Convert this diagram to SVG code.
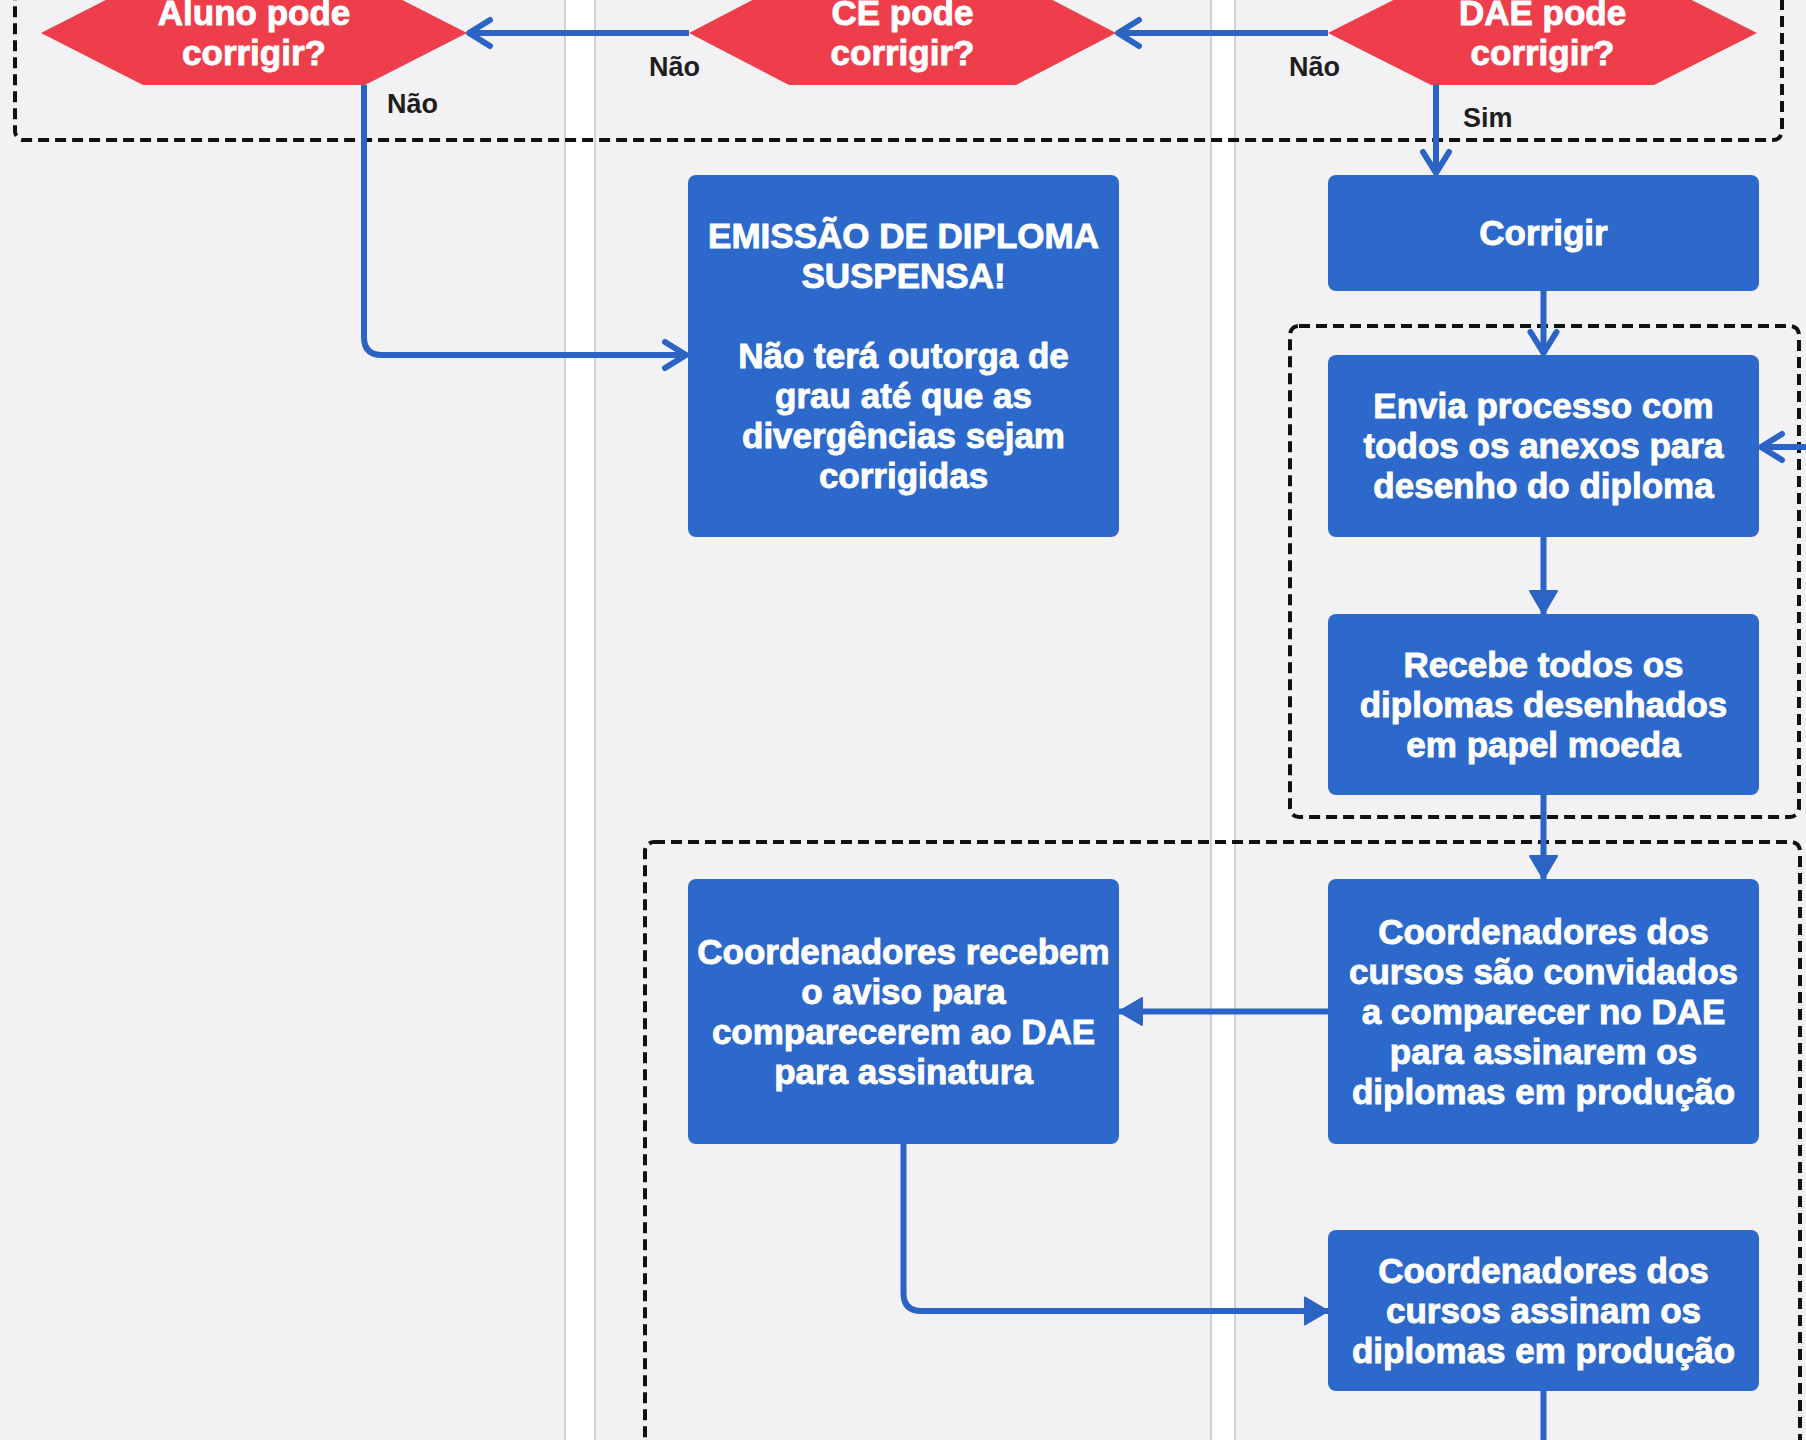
<svg xmlns="http://www.w3.org/2000/svg" width="1806" height="1440" viewBox="0 0 1806 1440">
  <style>
    .lane { fill: #f2f2f4; }
    .gap { fill: #ffffff; }
    .sep { stroke: #bdbdc0; stroke-width: 1.3; }
    .group { fill: none; stroke: #111111; stroke-width: 4; stroke-dasharray: 11 6; }
    .box { fill: #2D68CB; }
    .hex { fill: #EE3E4C; }
    .t { font-family: "Liberation Sans", Arial, Helvetica, sans-serif; font-weight: bold; font-size: 35px; fill: #ffffff; stroke: #ffffff; stroke-width: 0.9; text-anchor: middle; }
    .lbl { font-family: "Liberation Sans", Arial, Helvetica, sans-serif; font-weight: bold; font-size: 27px; fill: #1e1e1e; }
    .edge { fill: none; stroke: #2C64C6; stroke-width: 6; }
  </style>
  <defs>
    <marker id="open" viewBox="-28 -17 34 34" refX="1" refY="0" markerWidth="34" markerHeight="34" orient="auto" markerUnits="userSpaceOnUse">
      <path d="M-21,-13 L0,0 L-21,13" fill="none" stroke="#2C64C6" stroke-width="6" stroke-linecap="round" stroke-linejoin="round"/>
    </marker>
    <marker id="fill" viewBox="-26 -16 30 32" refX="0" refY="0" markerWidth="30" markerHeight="32" orient="auto" markerUnits="userSpaceOnUse">
      <path d="M-23,-13.5 L0,0 L-23,13.5 Z" fill="#2C64C6" stroke="#2C64C6" stroke-width="2" stroke-linejoin="round"/>
    </marker>
  </defs>

  <!-- swimlanes -->
  <g id="lanes">
    <rect class="lane" x="0" y="0" width="565" height="1440"/>
    <rect class="gap" x="565" y="0" width="30" height="1440"/>
    <rect class="lane" x="595" y="0" width="616" height="1440"/>
    <rect class="gap" x="1211" y="0" width="24" height="1440"/>
    <rect class="lane" x="1235" y="0" width="571" height="1440"/>
    <line class="sep" x1="565" y1="0" x2="565" y2="1440"/>
    <line class="sep" x1="595" y1="0" x2="595" y2="1440"/>
    <line class="sep" x1="1211" y1="0" x2="1211" y2="1440"/>
    <line class="sep" x1="1235" y1="0" x2="1235" y2="1440"/>
  </g>

  <!-- dashed groups -->
  <g id="groups">
    <rect class="group" x="15" y="-100" width="1767" height="240" rx="9"/>
    <rect class="group" x="1290" y="326" width="509" height="491" rx="9"/>
    <rect class="group" x="645" y="842" width="1155" height="700" rx="9"/>
  </g>

  <!-- connectors -->
  <g id="connectors">
    <path class="edge" d="M1328,33 H1117" marker-end="url(#open)"/>
    <path class="edge" d="M689,33 H468" marker-end="url(#open)"/>
    <path class="edge" d="M364,85 V337 Q364,355 382,355 H687" marker-end="url(#open)"/>
    <path class="edge" d="M1436,85 V174" marker-end="url(#open)"/>
    <path class="edge" d="M1543.5,291 V354" marker-end="url(#open)"/>
    <path class="edge" d="M1806,447 H1760" marker-end="url(#open)"/>
    <path class="edge" d="M1543.5,537 V614" marker-end="url(#fill)"/>
    <path class="edge" d="M1543.5,795 V879" marker-end="url(#fill)"/>
    <path class="edge" d="M1328,1011.5 H1119" marker-end="url(#fill)"/>
    <path class="edge" d="M903.5,1144 V1293 Q903.5,1311 921.5,1311 H1328" marker-end="url(#fill)"/>
    <path class="edge" d="M1543.5,1391 V1445"/>
    <text class="lbl" x="649" y="76">Não</text>
    <text class="lbl" x="1289" y="76">Não</text>
    <text class="lbl" x="387" y="113">Não</text>
    <text class="lbl" x="1463" y="127">Sim</text>
  </g>

  <!-- decision nodes -->
  <g id="aluno-decisao">
    <polygon class="hex" points="41,33 143,-19 365,-19 467,33 365,85 143,85"/>
    <text class="t" x="254" y="25">Aluno pode</text>
    <text class="t" x="254" y="65">corrigir?</text>
  </g>
  <g id="ce-decisao">
    <polygon class="hex" points="689,33 789,-19 1016,-19 1116,33 1016,85 789,85"/>
    <text class="t" x="902.5" y="25">CE pode</text>
    <text class="t" x="902.5" y="65">corrigir?</text>
  </g>
  <g id="dae-decisao">
    <polygon class="hex" points="1328,33 1431,-19 1654,-19 1757,33 1654,85 1431,85"/>
    <text class="t" x="1542.5" y="25">DAE pode</text>
    <text class="t" x="1542.5" y="65">corrigir?</text>
  </g>

  <!-- process nodes -->
  <g id="corrigir">
    <rect class="box" x="1328" y="175" width="431" height="116" rx="8"/>
    <text class="t" x="1543.5" y="245">Corrigir</text>
  </g>
  <g id="emissao-suspensa">
    <rect class="box" x="688" y="175" width="431" height="362" rx="8"/>
    <text class="t" x="903.5" y="248">EMISSÃO DE DIPLOMA</text>
    <text class="t" x="903.5" y="288">SUSPENSA!</text>
    <text class="t" x="903.5" y="368">Não terá outorga de</text>
    <text class="t" x="903.5" y="408">grau até que as</text>
    <text class="t" x="903.5" y="448">divergências sejam</text>
    <text class="t" x="903.5" y="488">corrigidas</text>
  </g>
  <g id="envia-processo">
    <rect class="box" x="1328" y="355" width="431" height="182" rx="8"/>
    <text class="t" x="1543.5" y="418">Envia processo com</text>
    <text class="t" x="1543.5" y="458">todos os anexos para</text>
    <text class="t" x="1543.5" y="498">desenho do diploma</text>
  </g>
  <g id="recebe-diplomas">
    <rect class="box" x="1328" y="614" width="431" height="181" rx="8"/>
    <text class="t" x="1543.5" y="677">Recebe todos os</text>
    <text class="t" x="1543.5" y="717">diplomas desenhados</text>
    <text class="t" x="1543.5" y="757">em papel moeda</text>
  </g>
  <g id="coordenadores-recebem">
    <rect class="box" x="688" y="879" width="431" height="265" rx="8"/>
    <text class="t" x="903.5" y="964">Coordenadores recebem</text>
    <text class="t" x="903.5" y="1004">o aviso para</text>
    <text class="t" x="903.5" y="1044">comparecerem ao DAE</text>
    <text class="t" x="903.5" y="1084">para assinatura</text>
  </g>
  <g id="coordenadores-convidados">
    <rect class="box" x="1328" y="879" width="431" height="265" rx="8"/>
    <text class="t" x="1543.5" y="944">Coordenadores dos</text>
    <text class="t" x="1543.5" y="984">cursos são convidados</text>
    <text class="t" x="1543.5" y="1024">a comparecer no DAE</text>
    <text class="t" x="1543.5" y="1064">para assinarem os</text>
    <text class="t" x="1543.5" y="1104">diplomas em produção</text>
  </g>
  <g id="coordenadores-assinam">
    <rect class="box" x="1328" y="1230" width="431" height="161" rx="8"/>
    <text class="t" x="1543.5" y="1283">Coordenadores dos</text>
    <text class="t" x="1543.5" y="1323">cursos assinam os</text>
    <text class="t" x="1543.5" y="1363">diplomas em produção</text>
  </g>
</svg>
